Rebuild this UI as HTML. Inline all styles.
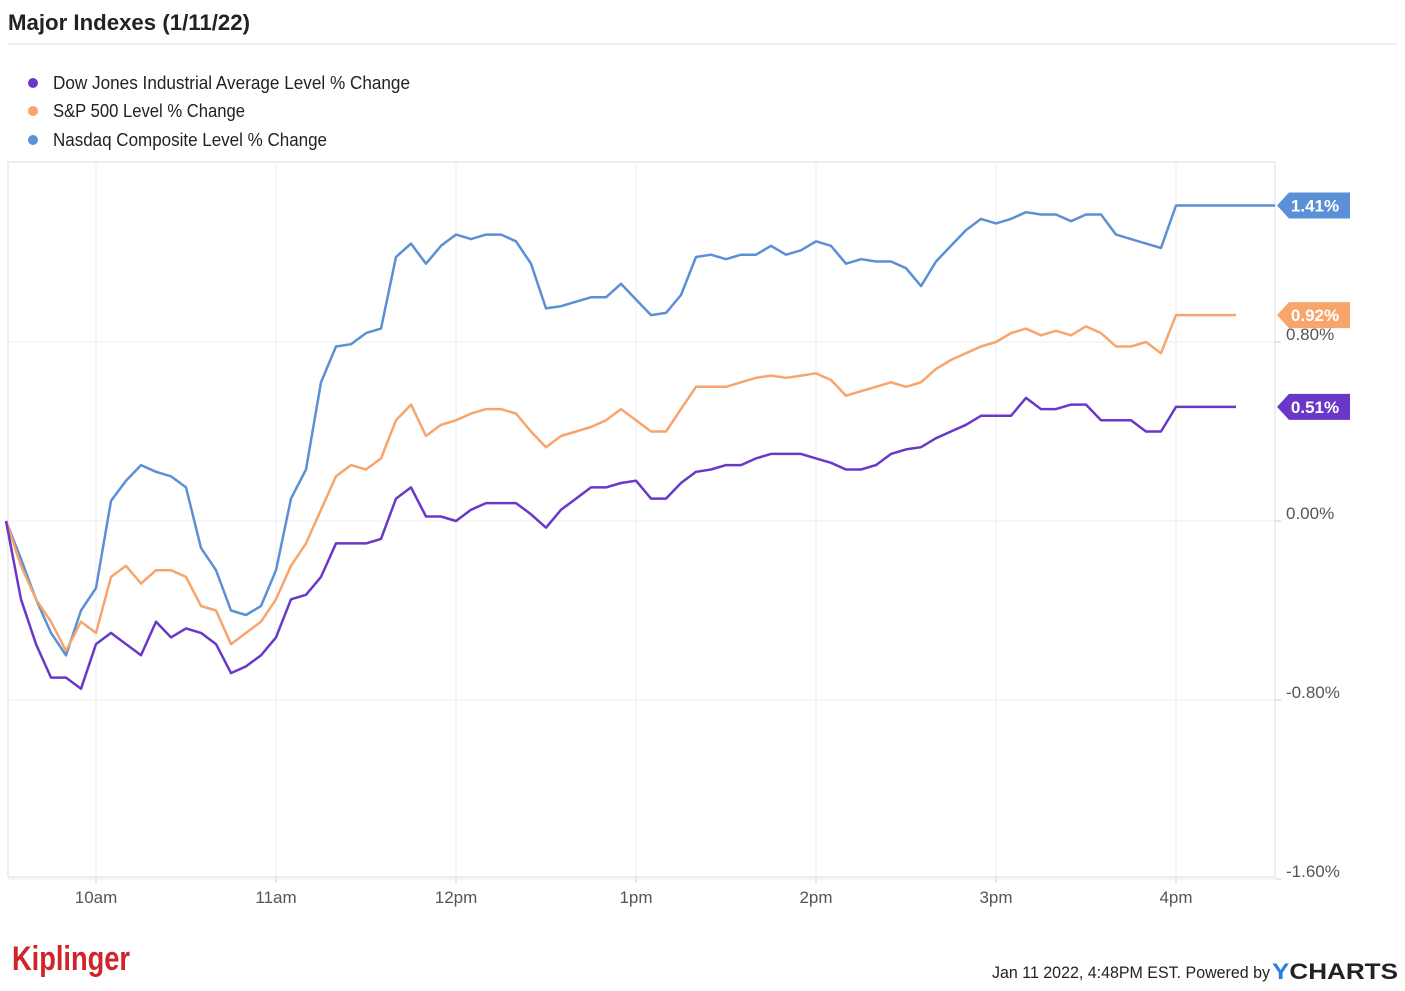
<!DOCTYPE html>
<html><head><meta charset="utf-8"><style>
body{margin:0;background:#fff;width:1405px;height:986px;overflow:hidden;font-family:"Liberation Sans",sans-serif}
</style></head><body>
<svg id="chart" width="1405" height="986" xmlns="http://www.w3.org/2000/svg" font-family="Liberation Sans, sans-serif">
<text x="8" y="30" font-size="22" font-weight="bold" fill="#222" textLength="242" lengthAdjust="spacingAndGlyphs">Major Indexes (1/11/22)</text>
<line x1="8" y1="44" x2="1397" y2="44" stroke="#ddd" stroke-width="1"/>
<g>
<g><circle cx="33" cy="83" r="5" fill="#6a38c8"/><text x="53" y="89" font-size="18" fill="#222" textLength="357" lengthAdjust="spacingAndGlyphs">Dow Jones Industrial Average Level % Change</text></g>
<g><circle cx="33" cy="111" r="5" fill="#f7a56b"/><text x="53" y="117" font-size="18" fill="#222" textLength="192" lengthAdjust="spacingAndGlyphs">S&amp;P 500 Level % Change</text></g>
<g><circle cx="33" cy="140" r="5" fill="#5b8fd6"/><text x="53" y="146" font-size="18" fill="#222" textLength="274" lengthAdjust="spacingAndGlyphs">Nasdaq Composite Level % Change</text></g>
</g>
<rect x="8" y="162" width="1267" height="715" fill="none" stroke="#ddd"/>
<g id="grid"></g><g id="series"></g><g id="tags"></g>
<g>
<text x="12" y="970" font-size="34" font-weight="bold" fill="#d0232a" textLength="118" lengthAdjust="spacingAndGlyphs">Kiplinger</text>
<text x="992" y="978" font-size="17" fill="#222" textLength="278" lengthAdjust="spacingAndGlyphs">Jan 11 2022, 4:48PM EST. Powered by</text>
<text x="1272" y="979" font-size="22" font-weight="bold" fill="#222" textLength="126" lengthAdjust="spacingAndGlyphs"><tspan fill="#2a7de1">Y</tspan>CHARTS</text>
</g>
</svg>
<script>
const minutes = [0,5,10,15,20,25,30,35,40,45,50,55,60,65,70,75,80,85,90,95,100,105,110,115,120,125,130,135,140,145,150,155,160,165,170,175,180,185,190,195,200,205,210,215,220,225,230,235,240,245,250,255,260,265,270,275,280,285,290,295,300,305,310,315,320,325,330,335,340,345,350,355,360,365,370,375,380,385,390];
const nasdaq = [0.00,-0.17,-0.35,-0.50,-0.60,-0.40,-0.30,0.09,0.18,0.25,0.22,0.20,0.15,-0.12,-0.22,-0.40,-0.42,-0.38,-0.22,0.10,0.23,0.62,0.78,0.79,0.84,0.86,1.18,1.24,1.15,1.23,1.28,1.26,1.28,1.28,1.25,1.15,0.95,0.96,0.98,1.00,1.00,1.06,0.99,0.92,0.93,1.01,1.18,1.19,1.17,1.19,1.19,1.23,1.19,1.21,1.25,1.23,1.15,1.17,1.16,1.16,1.13,1.05,1.16,1.23,1.30,1.35,1.33,1.35,1.38,1.37,1.37,1.34,1.37,1.37,1.28,1.26,1.24,1.22,1.41];
const sp500 = [0.00,-0.20,-0.35,-0.45,-0.58,-0.45,-0.50,-0.25,-0.20,-0.28,-0.22,-0.22,-0.25,-0.38,-0.40,-0.55,-0.50,-0.45,-0.35,-0.20,-0.10,0.05,0.20,0.25,0.23,0.28,0.45,0.52,0.38,0.43,0.45,0.48,0.50,0.50,0.48,0.40,0.33,0.38,0.40,0.42,0.45,0.50,0.45,0.40,0.40,0.50,0.60,0.60,0.60,0.62,0.64,0.65,0.64,0.65,0.66,0.63,0.56,0.58,0.60,0.62,0.60,0.62,0.68,0.72,0.75,0.78,0.80,0.84,0.86,0.83,0.85,0.83,0.87,0.84,0.78,0.78,0.80,0.75,0.92];
const dow = [0.00,-0.35,-0.55,-0.70,-0.70,-0.75,-0.55,-0.50,-0.55,-0.60,-0.45,-0.52,-0.48,-0.50,-0.55,-0.68,-0.65,-0.60,-0.52,-0.35,-0.33,-0.25,-0.10,-0.10,-0.10,-0.08,0.10,0.15,0.02,0.02,0.00,0.05,0.08,0.08,0.08,0.03,-0.03,0.05,0.10,0.15,0.15,0.17,0.18,0.10,0.10,0.17,0.22,0.23,0.25,0.25,0.28,0.30,0.30,0.30,0.28,0.26,0.23,0.23,0.25,0.30,0.32,0.33,0.37,0.40,0.43,0.47,0.47,0.47,0.55,0.50,0.50,0.52,0.52,0.45,0.45,0.45,0.40,0.40,0.51];
const yTicks = [0.8,0,-0.8,-1.6];
const yTickLabels = ["0.80%","0.00%","-0.80%","-1.60%"];
const xTicks = [30,90,150,210,270,330,390];
const xTickLabels = ["10am","11am","12pm","1pm","2pm","3pm","4pm"];
const NS="http://www.w3.org/2000/svg";
const X = m => 6 + m*3;
const Y = v => 521 - v*223.75;
function mk(tag, attrs, parent){const e=document.createElementNS(NS,tag);for(const k in attrs)e.setAttribute(k,attrs[k]);parent.appendChild(e);return e;}
const grid=document.getElementById('grid');
xTicks.forEach((t,i)=>{
  const l=mk('line',{x1:X(t),x2:X(t),y1:162,y2:877,stroke:'#eee'},grid);
  
  
  const tk=mk('line',{x1:X(t),x2:X(t),y1:877,y2:883,stroke:'#ccc'},grid);
  
  
  const tx=mk('text',{x:X(t),y:903,'font-size':17,fill:'#555','text-anchor':'middle'},grid);
  tx.textContent=xTickLabels[i];
  
  
});
yTicks.forEach((v,i)=>{
  const l=mk('line',{x1:8,x2:1275,y1:Y(v),y2:Y(v),stroke:'#eee'},grid);
  
  
  const tk=mk('line',{x1:1275,x2:1281,y1:Y(v),y2:Y(v),stroke:'#ccc'},grid);
  
  
  const tx=mk('text',{x:1286,y:Y(v)-2,'font-size':17,fill:'#555'},grid);
  tx.textContent=yTickLabels[i];
  
  
});
const ser=document.getElementById('series'), tags=document.getElementById('tags');
[[nasdaq,'#5b8fd6','nasdaq',1275],[sp500,'#f7a56b','sp500',1236],[dow,'#6a38c8','dow',1236]].forEach(([vals,col,name,endX])=>{
  let d=vals.map((v,i)=>(i?'L':'M')+X(minutes[i]).toFixed(1)+','+Y(v).toFixed(1)).join(' ');
  const last=vals[vals.length-1];
  d+=' L'+(X(minutes[minutes.length-1])+8)+','+Y(last).toFixed(1)+' L'+endX+','+Y(last).toFixed(1);
  const p=mk('path',{d:d,fill:'none',stroke:col,'stroke-width':2.5,'stroke-linejoin':'round'},ser);
  
  
  const y=Y(last);
  const g=mk('g',{},tags);
  
  
  mk('path',{d:`M1277,${y} L1289,${y-13} L1350,${y-13} L1350,${y+13} L1289,${y+13} Z`,fill:col},g);
  const t=mk('text',{x:1315,y:y+6,'font-size':17,'font-weight':'bold',fill:'#fff','text-anchor':'middle'},g);
  t.textContent=last.toFixed(2)+'%';
});
</script>
</body></html>
